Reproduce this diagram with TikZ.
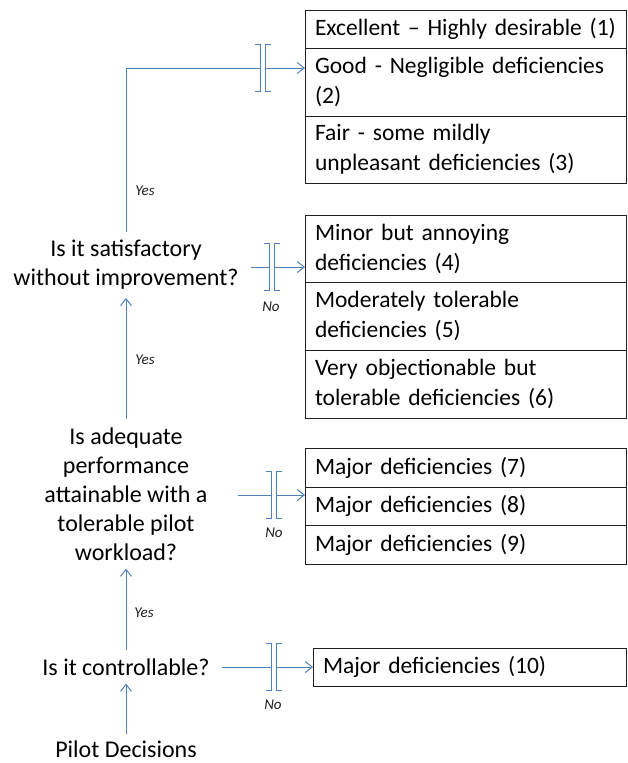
\documentclass[tikz,border=0pt]{standalone}
\usepackage{fontspec}
\setmainfont{Carlito}
\usetikzlibrary{arrows.meta}
\definecolor{flowblue}{RGB}{79,129,189}
\definecolor{inkgray}{RGB}{30,30,30}
\tikzset{
  cell/.style={draw=inkgray, line width=0.9pt, rectangle, anchor=north west,
    minimum width=321pt, text width=301pt, inner xsep=10pt, inner ysep=0pt,
    outer sep=0pt, align=left, text=black, font=\fontsize{23.5}{30}\selectfont},
  question/.style={align=center, inner xsep=12pt, inner ysep=8pt, text=black,
    font=\fontsize{24}{29}\selectfont},
  link/.style={draw=flowblue, line width=1pt},
  arr/.style={link, -{Straight Barb[length=7pt,width=11pt]}},
  answer/.style={font=\fontsize{15}{17}\selectfont\itshape, text=inkgray},
  brk/.style={draw=flowblue, line width=1pt},
  break/.pic={
    \draw[brk] (-8,-23.5) -- (-2.5,-23.5) -- (-2.5,23.5) -- (-8,23.5);
    \draw[brk] (8,-23.5) -- (2.5,-23.5) -- (2.5,23.5) -- (8,23.5);
  },
}
\begin{document}
\begin{tikzpicture}[x=1pt,y=-1pt]
\useasboundingbox[fill=white] (0,0) rectangle (627,763);

% rating boxes
\node[cell, minimum height=38pt] (r1) at (305,10) {\mbox{Excellent – Highly desirable (1)}};
\node[cell, minimum height=68pt] (r2) at (305,48) {Good - Negligible deficiencies\\(2)};
\node[cell, minimum height=67pt] (r3) at (305,116) {Fair - some mildly\\unpleasant deficiencies (3)};
\node[cell, minimum height=67pt] (r4) at (305,215) {Minor but annoying\\deficiencies (4)};
\node[cell, minimum height=68pt] (r5) at (305,282) {Moderately tolerable\\deficiencies (5)};
\node[cell, minimum height=68pt] (r6) at (305,350) {Very objectionable but\\tolerable deficiencies (6)};
\node[cell, minimum height=39pt] (r7) at (305,448) {Major deficiencies (7)};
\node[cell, minimum height=38pt] (r8) at (305,487) {Major deficiencies (8)};
\node[cell, minimum height=39pt] (r9) at (305,525) {Major deficiencies (9)};
\node[cell, minimum height=38pt, minimum width=313pt, text width=293pt] (r10) at (313,648) {Major deficiencies (10)};

% decision questions
\node[question] (sat) at (126,265) {Is it satisfactory\\without improvement?};
\node[question, inner xsep=30pt] (adeq) at (126,494) {Is adequate\\performance\\attainable with a\\tolerable pilot\\workload?};
\node[question] (ctrl) at (126,667) {Is it controllable?};
\node[question, inner ysep=6pt] (pilot) at (126,749) {Pilot Decisions};

% break marks on the branches
\coordinate (k1) at (263,68);
\coordinate (k2) at (272,267);
\coordinate (k3) at (274,495);
\coordinate (k4) at (274,667);
\pic at (k1) {break};
\pic at (k2) {break};
\pic at (k3) {break};
\pic at (k4) {break};

% main chain
\draw[arr] (pilot) -- (ctrl);
\draw[arr] (ctrl) -- (adeq);
\draw[arr] (adeq) -- (sat);
\draw[link] (sat.north) |- ([xshift=-2.5pt]k1);
\draw[arr] ([xshift=2.5pt]k1) -- (k1 -| r2.west);

% branches to the right
\draw[link] (sat.east |- k2) -- ([xshift=-2.5pt]k2);
\draw[arr] ([xshift=2.5pt]k2) -- (k2 -| r4.west);
\draw[link] (adeq.east |- k3) -- ([xshift=-2.5pt]k3);
\draw[arr] ([xshift=2.5pt]k3) -- (k3 -| r8.west);
\draw[link] (ctrl) -- ([xshift=-2.5pt]k4);
\draw[arr] ([xshift=2.5pt]k4) -- (r10);

% answers
\node[answer] (y1) at (145,191) {Yes};
\node[answer] (y2) at (145,360) {Yes};
\node[answer] (y3) at (144,613) {Yes};
\node[answer] (n1) at (271,307) {No};
\node[answer] (n2) at (274,533) {No};
\node[answer] (n3) at (273,705) {No};
\end{tikzpicture}
\end{document}
